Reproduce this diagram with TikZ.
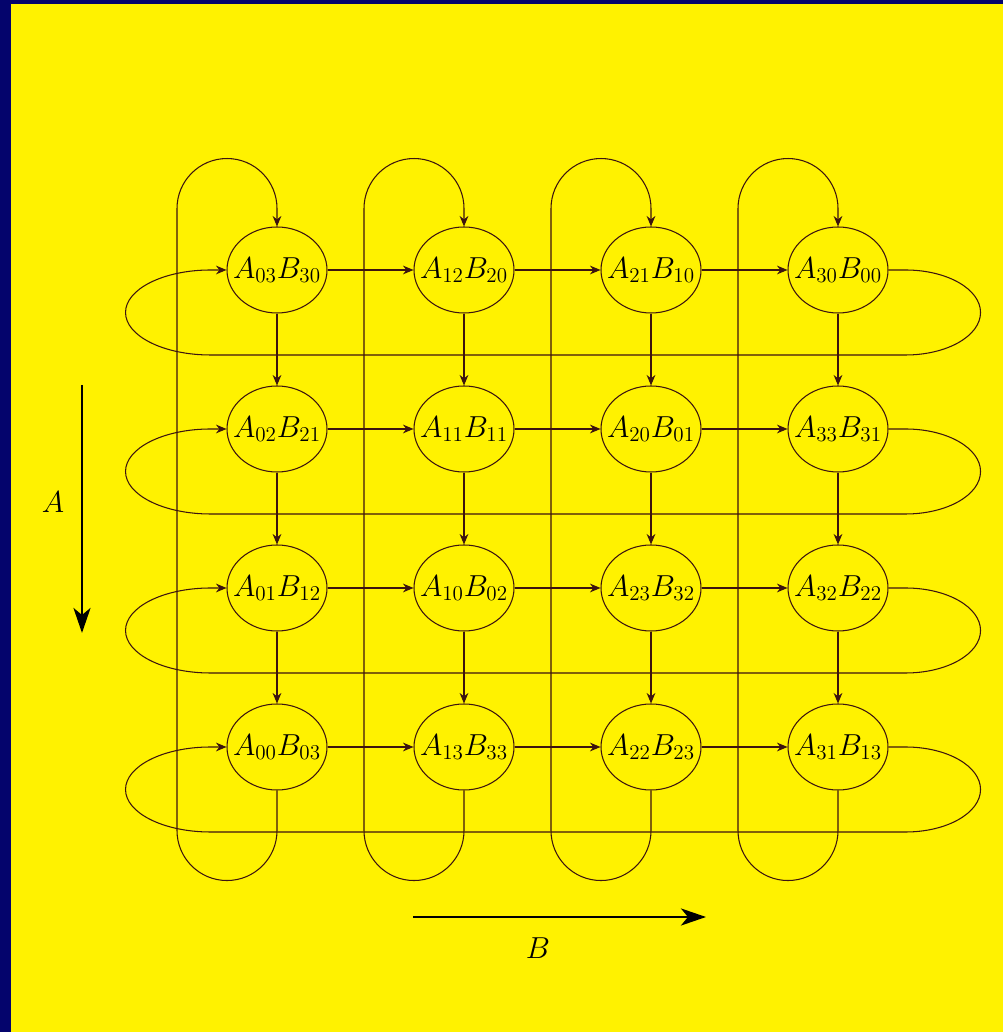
\documentclass[tikz,border=0pt]{standalone}
\usepackage{tikz}
\usetikzlibrary{arrows.meta,shapes.geometric}
\definecolor{navyband}{RGB}{4,4,108}
\definecolor{wire}{RGB}{60,20,15}
\newcommand{\AB}[2]{\makebox[0pt]{$A_{#1}B_{#2}$}}

\begin{document}
\begin{tikzpicture}[
    cell/.style={
        ellipse, draw=wire, line width=0.6pt,
        minimum width=2cm, minimum height=1.72cm, inner sep=0pt,
        font=\fontsize{18}{20}\selectfont
    },
    link/.style={draw=wire, line width=0.6pt, -{Stealth[length=6pt,width=5pt,inset=2pt]}},
    axis/.style={line width=1.7pt, -{Stealth[length=0.5cm,width=0.34cm,inset=0.14cm]}},
    lbl/.style={font=\fontsize{18}{20}\selectfont, inner sep=0pt}
]
\fill[navyband] (0,0) rectangle (20.06,20.64);
\fill[yellow] (0.22,0) rectangle (20.06,20.56);
\useasboundingbox (0,0) rectangle (20.06,20.64);

\node[cell] (p11) at (5.54, 15.24) {\AB{03}{30}};
\node[cell] (p12) at (9.28, 15.24) {\AB{12}{20}};
\node[cell] (p13) at (13.02,15.24) {\AB{21}{10}};
\node[cell] (p14) at (16.76,15.24) {\AB{30}{00}};
\node[cell] (p21) at (5.54, 12.06) {\AB{02}{21}};
\node[cell] (p22) at (9.28, 12.06) {\AB{11}{11}};
\node[cell] (p23) at (13.02,12.06) {\AB{20}{01}};
\node[cell] (p24) at (16.76,12.06) {\AB{33}{31}};
\node[cell] (p31) at (5.54, 8.88)  {\AB{01}{12}};
\node[cell] (p32) at (9.28, 8.88)  {\AB{10}{02}};
\node[cell] (p33) at (13.02,8.88)  {\AB{23}{32}};
\node[cell] (p34) at (16.76,8.88)  {\AB{32}{22}};
\node[cell] (p41) at (5.54, 5.70)  {\AB{00}{03}};
\node[cell] (p42) at (9.28, 5.70)  {\AB{13}{33}};
\node[cell] (p43) at (13.02,5.70)  {\AB{22}{23}};
\node[cell] (p44) at (16.76,5.70)  {\AB{31}{13}};

\foreach \r in {1,...,4}{
  \foreach \c/\n in {1/2,2/3,3/4}{
    \draw[link] (p\r\c.east) -- (p\r\n.west);
    \draw[link] (p\c\r.south) -- (p\n\r.north);
  }
  \draw[link] (p\r4.east) -- ++(0.34,0)
      arc[start angle=90, end angle=-90, x radius=1.5, y radius=0.85] -- ++(-13.9,0)
      arc[start angle=270, end angle=90, x radius=1.7, y radius=0.85] -- (p\r1.west);
  \draw[link] (p4\r.south) -- ++(0,-0.8)
      arc[start angle=0, end angle=-180, radius=1] -- ++(0,12.44)
      arc[start angle=180, end angle=0, radius=1] -- (p1\r.north);
}

\coordinate (atop) at (1.64,12.94);
\coordinate (abot) at (1.64,7.98);
\coordinate (bleft) at (8.26,2.30);
\coordinate (bright) at (14.12,2.30);
\draw[axis] (atop) -- (abot);
\draw[axis] (bleft) -- (bright);
\node[lbl] (alab) at (1.06,10.60) {$A$};
\node[lbl] (blab) at (10.76,1.68) {$B$};

\end{tikzpicture}
\end{document}
